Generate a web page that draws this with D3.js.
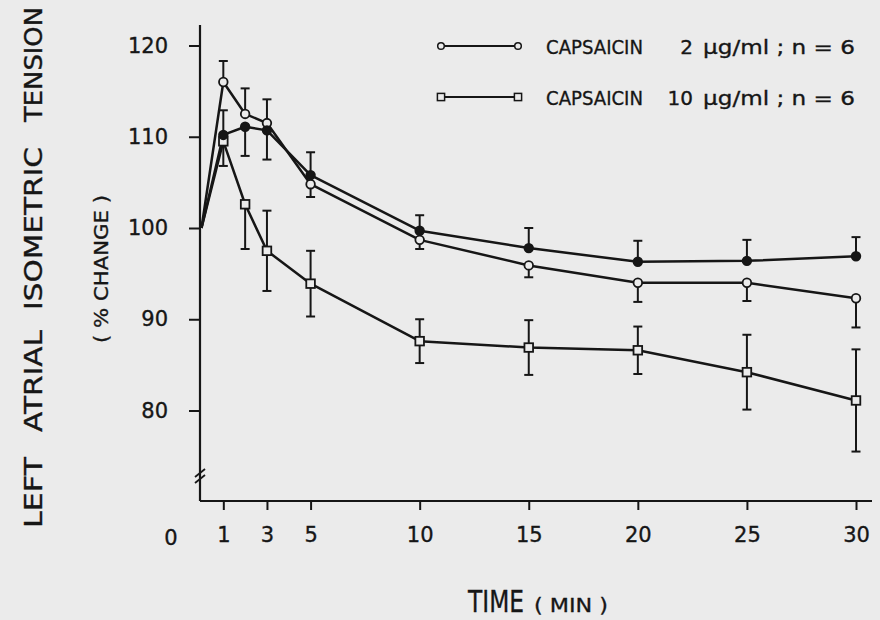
<!DOCTYPE html>
<html>
<head>
<meta charset="utf-8">
<script src="https://cdn.jsdelivr.net/npm/d3@7"></script>
<style>
  html, body { margin: 0; padding: 0; background: #ebebeb; }
  svg { display: block; }
  text { font-family: "DejaVu Sans", sans-serif; fill: #161616; stroke: #161616; stroke-width: 0.35px; }
</style>
</head>
<body>
<svg id="chart" width="880" height="620"></svg>
<script>
// Sampling times (min)
const times = [0, 1, 2, 3, 5, 10, 15, 20, 25, 30];

// Capsaicin 2 µg/ml (open circles): mean % change and SEM
const cap2Mean = [100, 116.0, 112.5, 111.5, 104.8, 98.7, 95.9, 94.0, 94.0, 92.3];
const cap2Sem  = [0, 2.3, 2.8, 2.6, 1.4, 1.0, 1.3, 2.1, 2.0, 3.2];
const cap2Bar  = ["", "up", "up", "up", "down", "down", "down", "down", "down", "down"];

// Filled circles series
const solidMean = [100, 110.2, 111.1, 110.7, 105.8, 99.7, 97.8, 96.3, 96.4, 96.9];
const solidSem  = [0, 2.7, 3.2, 3.2, 2.5, 1.7, 2.2, 2.3, 2.3, 2.1];
const solidBar  = ["", "up", "down", "down", "up", "up", "up", "up", "up", "up"];

// Capsaicin 10 µg/ml (open squares)
const cap10Mean = [100, 109.5, 102.6, 97.5, 93.9, 87.6, 86.9, 86.6, 84.2, 81.1];
const cap10Sem  = [0, 2.7, 4.9, 4.4, 3.6, 2.4, 3.0, 2.6, 4.1, 5.6];
const cap10Bar  = ["", "down", "down", "both", "both", "both", "both", "both", "both", "both"];

// Axis ticks
const xTicks = [1, 3, 5, 10, 15, 20, 25, 30];
const yTicks = [80, 90, 100, 110, 120];

// Y-axis title words, bottom to top
const yTitleWords = ["LEFT", "ATRIAL", "ISOMETRIC", "TENSION"];

// Legend entries
const legendDose = ["2", "10"];
const legendShape = ["circle", "square"];

const ink = "#161616";
const bg = "#ebebeb";
const svg = d3.select("#chart");

const x = d3.scaleLinear().domain([0, 30]).range([201.5, 856]);
const y = d3.scaleLinear().domain([80, 120]).range([410.5, 45.5]);

const axisX = 200, axisY = 501;

// Axis lines with a break near the bottom of the vertical axis
svg.append("line").attr("x1", axisX).attr("x2", axisX).attr("y1", 25).attr("y2", axisY)
  .attr("stroke", ink).attr("stroke-width", 2.2);
svg.append("line").attr("x1", axisX).attr("x2", 872).attr("y1", axisY).attr("y2", axisY)
  .attr("stroke", ink).attr("stroke-width", 2.2);
[473, 479].forEach(b => {
  svg.append("line").attr("x1", axisX - 5).attr("y1", b + 4).attr("x2", axisX + 5).attr("y2", b - 4)
    .attr("stroke", ink).attr("stroke-width", 1.8);
});

// Y axis ticks and labels
const gy = svg.append("g").attr("transform", `translate(${axisX},0)`)
  .call(d3.axisLeft(y).tickValues(yTicks).tickSize(11).tickPadding(21).tickFormat(d3.format("d")));
gy.select(".domain").remove();
gy.selectAll(".tick line").attr("stroke", ink).attr("stroke-width", 2);
gy.selectAll(".tick text").style("font-size", "21px").attr("fill", ink).attr("font-family", null);

// X axis ticks and labels
const gx = svg.append("g").attr("transform", `translate(0,${axisY})`)
  .call(d3.axisBottom(x).tickValues(xTicks).tickSize(9).tickPadding(17).tickFormat(d3.format("d")));
gx.select(".domain").remove();
gx.selectAll(".tick line").attr("stroke", ink).attr("stroke-width", 2);
gx.selectAll(".tick text").style("font-size", "21px").attr("fill", ink).attr("font-family", null);
// Origin label sits left of the corner
svg.append("text").attr("x", 171).attr("y", 545).attr("text-anchor", "middle")
  .style("font-size", "21px").text("0");

// Y-axis title: rotated words laid out bottom to top with wide gaps
const wordSpan = [[457, 528], [330, 432], [147, 310], [7, 122]];
yTitleWords.forEach((w, i) => {
  const [top, bottom] = wordSpan[i];
  svg.append("text")
    .attr("transform", `translate(42,${bottom}) rotate(-90)`)
    .attr("textLength", bottom - top).attr("lengthAdjust", "spacingAndGlyphs")
    .style("font-size", "24px").text(w);
});
svg.append("text")
  .attr("transform", "translate(108,269) rotate(-90)")
  .attr("text-anchor", "middle")
  .attr("textLength", 148).attr("lengthAdjust", "spacingAndGlyphs")
  .style("font-size", "20px").text("( % CHANGE )");
svg.append("text").attr("x", 468).attr("y", 612)
  .attr("textLength", 56).attr("lengthAdjust", "spacingAndGlyphs")
  .style("font-size", "30px").text("TIME");
svg.append("text").attr("x", 534).attr("y", 612)
  .attr("textLength", 74).attr("lengthAdjust", "spacingAndGlyphs")
  .style("font-size", "20px").text("( MIN )");

// Series definitions
const series = [
  { mean: cap10Mean, sem: cap10Sem, bar: cap10Bar, shape: "square", fill: bg },
  { mean: cap2Mean, sem: cap2Sem, bar: cap2Bar, shape: "circle", fill: bg },
  { mean: solidMean, sem: solidSem, bar: solidBar, shape: "circle", fill: ink }
];

const line = d3.line().x(d => x(d.t)).y(d => y(d.v));

series.forEach(s => {
  const pts = times.map((t, i) => ({ t, v: s.mean[i], e: s.sem[i], dir: s.bar[i] }));
  svg.append("path").datum(pts).attr("d", line)
    .attr("fill", "none").attr("stroke", ink).attr("stroke-width", 2.5).attr("stroke-linejoin", "round");

  // Error bars (SEM) with caps
  pts.filter(p => p.dir).forEach(p => {
    const cx = x(p.t);
    const ends = [];
    if (p.dir === "up" || p.dir === "both") ends.push(p.v + p.e);
    if (p.dir === "down" || p.dir === "both") ends.push(p.v - p.e);
    ends.forEach(ev => {
      svg.append("line").attr("x1", cx).attr("x2", cx).attr("y1", y(p.v)).attr("y2", y(ev))
        .attr("stroke", ink).attr("stroke-width", 2);
      svg.append("line").attr("x1", cx - 4.5).attr("x2", cx + 4.5).attr("y1", y(ev)).attr("y2", y(ev))
        .attr("stroke", ink).attr("stroke-width", 2);
    });
  });
});

// Markers drawn last so they sit over lines and bars
series.forEach(s => {
  const pts = times.map((t, i) => ({ t, v: s.mean[i] })).filter(p => p.t > 0);
  if (s.shape === "circle") {
    svg.append("g").selectAll("circle").data(pts).join("circle")
      .attr("cx", d => x(d.t)).attr("cy", d => y(d.v)).attr("r", 4.3)
      .attr("fill", s.fill).attr("stroke", ink).attr("stroke-width", 1.8);
  } else {
    svg.append("g").selectAll("rect").data(pts).join("rect")
      .attr("x", d => x(d.t) - 4.3).attr("y", d => y(d.v) - 4.3).attr("width", 8.6).attr("height", 8.6)
      .attr("fill", s.fill).attr("stroke", ink).attr("stroke-width", 1.8);
  }
});

// Legend
const legendRows = [46, 97];
legendRows.forEach((ly, i) => {
  const g = svg.append("g");
  g.append("line").attr("x1", 444).attr("x2", 515).attr("y1", ly).attr("y2", ly)
    .attr("stroke", ink).attr("stroke-width", 1.8);
  [441, 518].forEach(mx => {
    if (legendShape[i] === "circle") {
      g.append("circle").attr("cx", mx).attr("cy", ly).attr("r", 3.3)
        .attr("fill", bg).attr("stroke", ink).attr("stroke-width", 1.5);
    } else {
      g.append("rect").attr("x", mx - 3.6).attr("y", ly - 3.6).attr("width", 7.2).attr("height", 7.2)
        .attr("fill", bg).attr("stroke", ink).attr("stroke-width", 1.5);
    }
  });
  g.append("text").attr("x", 546).attr("y", ly + 7.5).attr("textLength", 97).attr("lengthAdjust", "spacingAndGlyphs")
    .style("font-size", "20px").text("CAPSAICIN");
  g.append("text").attr("x", 693).attr("y", ly + 7.5).attr("text-anchor", "end")
    .style("font-size", "20px").text(legendDose[i]);
  g.append("text").attr("x", 703).attr("y", ly + 7.5).attr("textLength", 152).attr("lengthAdjust", "spacingAndGlyphs")
    .style("font-size", "20px").text("µg/ml ; n = 6");
});
</script>
</body>
</html>
